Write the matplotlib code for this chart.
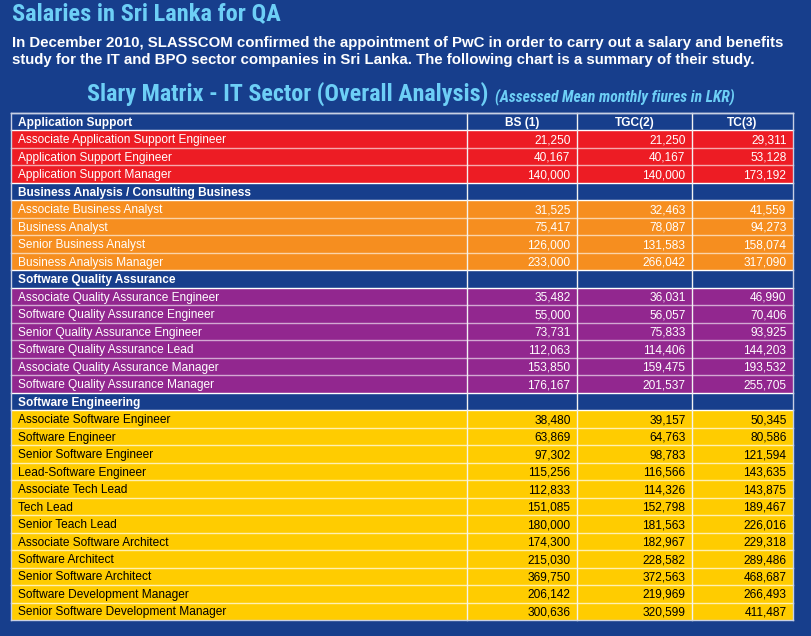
import matplotlib
matplotlib.use("Agg")
import matplotlib.pyplot as plt
from matplotlib.patches import Rectangle

title = "Salaries in Sri Lanka for QA"
intro_lines = [
    "In December 2010, SLASSCOM confirmed the appointment of PwC in order to carry out a salary and benefits",
    "study for the IT and BPO sector companies in Sri Lanka. The following chart is a summary of their study.",
]
subtitle = "Slary Matrix - IT Sector (Overall Analysis)"
subnote = "(Assessed Mean monthly fiures in LKR)"
col_headers = ["BS (1)", "TGC(2)", "TC(3)"]

sections = [
    "Application Support",
    "Business Analysis / Consulting Business",
    "Software Quality Assurance",
    "Software Engineering",
]
section_colors = ["#ED1C24", "#F68E1F", "#92278F", "#FFCC00"]
section_text = ["white", "white", "white", "black"]

roles = [
    ["Associate Application Support Engineer", "Application Support Engineer",
     "Application Support Manager"],
    ["Associate Business Analyst", "Business Analyst", "Senior Business Analyst",
     "Business Analysis Manager"],
    ["Associate Quality Assurance Engineer", "Software Quality Assurance Engineer",
     "Senior Quality Assurance Engineer", "Software Quality Assurance Lead",
     "Associate Quality Assurance Manager", "Software Quality Assurance Manager"],
    ["Associate Software Engineer", "Software Engineer", "Senior Software Engineer",
     "Lead-Software Engineer", "Associate Tech Lead", "Tech Lead", "Senior Teach Lead",
     "Associate Software Architect", "Software Architect", "Senior Software Architect",
     "Software Development Manager", "Senior Software Development Manager"],
]
bs = [
    [21250, 40167, 140000],
    [31525, 75417, 126000, 233000],
    [35482, 55000, 73731, 112063, 153850, 176167],
    [38480, 63869, 97302, 115256, 112833, 151085, 180000, 174300, 215030, 369750,
     206142, 300636],
]
tgc = [
    [21250, 40167, 140000],
    [32463, 78087, 131583, 266042],
    [36031, 56057, 75833, 114406, 159475, 201537],
    [39157, 64763, 98783, 116566, 114326, 152798, 181563, 182967, 228582, 372563,
     219969, 320599],
]
tc = [
    [29311, 53128, 173192],
    [41559, 94273, 158074, 317090],
    [46990, 70406, 93925, 144203, 193532, 255705],
    [50345, 80586, 121594, 143635, 143875, 189467, 226016, 229318, 289486, 468687,
     266493, 411487],
]

BG = "#173E8C"
LIGHT = "#6DCFF6"

W, H = 811, 636
fig = plt.figure(figsize=(W / 100, H / 100), dpi=100, facecolor=BG)
ax = fig.add_axes([0, 0, 1, 1])
ax.set_xlim(0, W)
ax.set_ylim(H, 0)
ax.axis("off")
ax.set_facecolor(BG)

cond = ["Roboto Condensed", "PT Sans Narrow", "DejaVu Sans"]
body = ["Liberation Sans", "Arimo", "DejaVu Sans"]
renderer = fig.canvas.get_renderer()


def fit_size(s, width, **kw):
    t = ax.text(0, 0, s, fontsize=10, **kw)
    w = t.get_window_extent(renderer=renderer).width
    t.remove()
    return 10 * width / w


# header texts
fs = fit_size(title, 270, fontweight="bold", family=cond)
ax.text(12, 20, title, color=LIGHT, fontsize=fs, fontweight="bold",
        family=cond, va="baseline", ha="left")
fs = fit_size(intro_lines[0], 775, fontweight="bold", family=body)
for i, line in enumerate(intro_lines):
    ax.text(12, 47 + i * 17, line, color="white", fontsize=fs, fontweight="bold",
            family=body, va="baseline", ha="left")
fs = fit_size(subtitle, 402, fontweight="bold", family=cond)
ax.text(87, 101, subtitle, color=LIGHT, fontsize=fs, fontweight="bold",
        family=cond, va="baseline", ha="left")
fs = fit_size(subnote, 240, fontweight="bold", style="italic", family=cond)
ax.text(495, 101, subnote, color=LIGHT, fontsize=fs, fontweight="bold",
        style="italic", family=cond, va="baseline", ha="left")

# table geometry
xs = [11, 467, 577, 692, 793]
top = 113
n_rows = sum(len(r) + 1 for r in roles)
rh = (620 - top) / n_rows
tfs = fit_size(roles[0][0], 209, family=body)


def draw_row(idx, face, texts, tcolor, bold, line_col):
    y0 = top + idx * rh
    ax.add_patch(Rectangle((xs[0], y0), xs[-1] - xs[0], rh, facecolor=face,
                           edgecolor="none", zorder=1))
    ax.plot([xs[0], xs[-1]], [y0, y0], color=line_col, lw=1.0, zorder=2)
    yb = y0 + rh / 2 + 4.2
    ax.text(xs[0] + 7, yb, texts[0], color=tcolor, fontsize=tfs,
            fontweight="bold" if bold else "normal", family=body,
            va="baseline", ha="left", zorder=3)
    for j in range(1, 4):
        if texts[j] == "":
            continue
        if bold:
            ax.text((xs[j] + xs[j + 1]) / 2, yb, texts[j], color=tcolor, fontsize=tfs,
                    fontweight="bold", family=body, va="baseline", ha="center", zorder=3)
        else:
            ax.text(xs[j + 1] - 6.5, yb, texts[j], color=tcolor, fontsize=tfs,
                    family=body, va="baseline", ha="right", zorder=3)


row = 0
line_cols = ["#F7A9AC", "#FBD3A8", "#D3A8D2", "#FFF0B0"]
for s, name in enumerate(sections):
    hdr = col_headers if s == 0 else ["", "", ""]
    draw_row(row, BG, [name] + hdr, "white", True, "#FFFFFF")
    row += 1
    for k, role in enumerate(roles[s]):
        vals = [f"{bs[s][k]:,}", f"{tgc[s][k]:,}", f"{tc[s][k]:,}"]
        draw_row(row, section_colors[s], [role] + vals, section_text[s], False,
                 "#FFFFFF" if k == 0 else line_cols[s])
        row += 1

bottom = top + row * rh
for j, x in enumerate(xs):
    col = "#C8D0E4" if j in (0, len(xs) - 1) else "#F2F2F2"
    ax.plot([x, x], [top, bottom], color=col, lw=1.0, zorder=2)
ax.plot([xs[0], xs[-1]], [bottom, bottom], color="#C8D0E4", lw=1.0, zorder=2)
ax.plot([xs[0], xs[-1]], [top, top], color="#C8D0E4", lw=1.0, zorder=2)

fig.savefig("out.png", dpi=100, facecolor=BG)
